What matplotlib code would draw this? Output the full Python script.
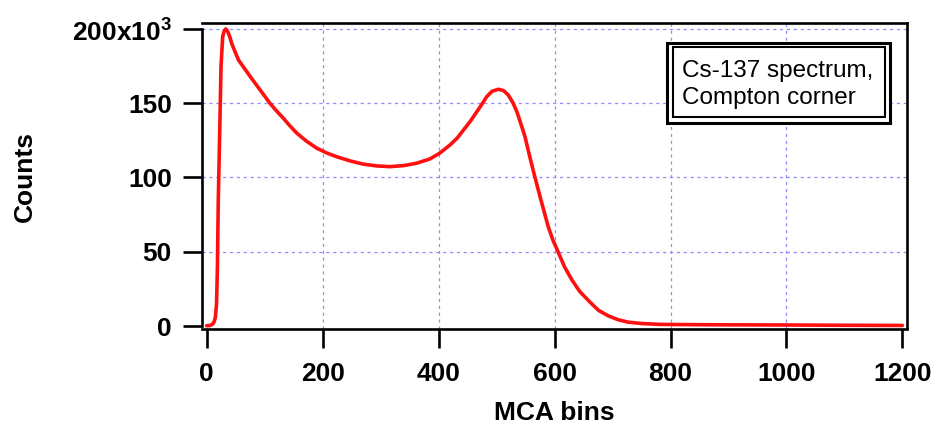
import matplotlib
matplotlib.use("Agg")
import matplotlib.pyplot as plt
from matplotlib.patches import Rectangle

plt.rcParams["font.family"] = ["Liberation Sans", "DejaVu Sans"]
plt.rcParams["mathtext.fontset"] = "custom"
plt.rcParams["mathtext.rm"] = "Liberation Sans:bold"
plt.rcParams["mathtext.bf"] = "Liberation Sans:bold"

# Cs-137 spectrum (counts in thousands)
mca_bins = [0, 6, 10, 13, 15, 17, 18.5, 20, 22.4, 24.7, 27.6, 30.5, 33, 36, 40,
            43, 48, 55, 65, 75, 92, 109, 120, 132, 143, 155, 172, 190, 207,
            224, 247, 270, 293, 316, 340, 362, 385, 402, 420, 432, 443, 455,
            466, 475, 483, 492, 503, 512, 520, 528, 535, 542, 549, 556, 563,
            569, 575, 582, 589, 597, 606, 617, 630, 643, 660, 676, 693, 710,
            727, 750, 782, 850, 900, 1000, 1100, 1200]
counts_k = [0.2, 0.4, 1.2, 3, 6, 15, 40, 85, 130, 175, 195, 199, 200, 198.5,
            194.5, 190.4, 185.5, 179, 173.5, 168, 159, 150, 145, 140, 135, 130,
            124.5, 119.7, 116.5, 114, 111.2, 109, 107.8, 107.3, 108, 109.6,
            112.5, 116.4, 122, 126.5, 132, 138, 144.3, 149.5, 154.4, 158, 159.4,
            158.5, 155.6, 150.5, 144.3, 136, 127.5, 116, 105, 96, 87, 77, 67,
            58, 50, 40, 31, 23.5, 16.5, 10.5, 6.8, 4.2, 2.6, 1.7, 1.1, 0.9, 0.8,
            0.7, 0.5, 0.4]

x_ticks = [0, 200, 400, 600, 800, 1000, 1200]
y_ticks = [0, 50, 100, 150, 200]
y_ticklabels = ["0", "50", "100", "150", r"200x10$^{3}$"]
legend_lines = ["Cs-137 spectrum,", "Compton corner"]

W, H = 938, 428
fig = plt.figure(figsize=(W / 100, H / 100), dpi=100)
ax = fig.add_axes([202 / W, 1 - 329 / H, (906.7 - 202) / W, (329 - 23.3) / H])

ax.plot(mca_bins, counts_k, color="#ff1010", lw=2.6, solid_capstyle="round",
        solid_joinstyle="round", zorder=3)

ax.set_xlim(-8.1, 1207.4)
ax.set_ylim(-2.0, 203.8)

ax.set_xticks(x_ticks)
ax.set_yticks(y_ticks)
ax.set_yticklabels(y_ticklabels)
ax.tick_params(axis="both", direction="out", length=13.7, width=1.9,
               labelsize=19, pad=8)
ax.tick_params(axis="x", pad=10)
for lab in ax.get_xticklabels() + ax.get_yticklabels():
    lab.set_fontweight("bold")

# dotted blue grid, Igor style
for xv in x_ticks[1:-1]:
    ax.axvline(xv, color="#8c8cff", lw=0.9, ls=(0, (2.5, 3)), zorder=1)
for yv in y_ticks[1:]:
    ax.axhline(yv, color="#8c8cff", lw=0.9, ls=(0, (2.5, 3)), zorder=1)

for s in ax.spines.values():
    s.set_linewidth(1.9)
ax.spines["left"].set_bounds(0, 200)
ax.spines["right"].set_bounds(-1.5, 203.8)

ax.set_xlabel("MCA bins", fontsize=19, fontweight="bold")
ax.xaxis.set_label_coords(0.5, -0.235)
ax.set_ylabel("Counts", fontsize=19, fontweight="bold")
ax.yaxis.set_label_coords(-0.2347, 0.5)

# double-framed annotation box
outer = Rectangle((667 / W, 1 - 122.7 / H), (890 - 667) / W, (122.7 - 42.7) / H,
                  transform=fig.transFigure, facecolor="white", edgecolor="black",
                  lw=2.2, zorder=5)
inner = Rectangle((672.7 / W, 1 - 117.3 / H), (885 - 672.7) / W, (117.3 - 47.3) / H,
                  transform=fig.transFigure, facecolor="white", edgecolor="black",
                  lw=1.5, zorder=6)
fig.add_artist(outer)
fig.add_artist(inner)
for i, line in enumerate(legend_lines):
    fig.text(682 / W, 1 - (76.7 + 27.3 * i) / H, line, fontsize=17.5,
             va="baseline", ha="left", zorder=7)

fig.savefig("out.png", dpi=100)
